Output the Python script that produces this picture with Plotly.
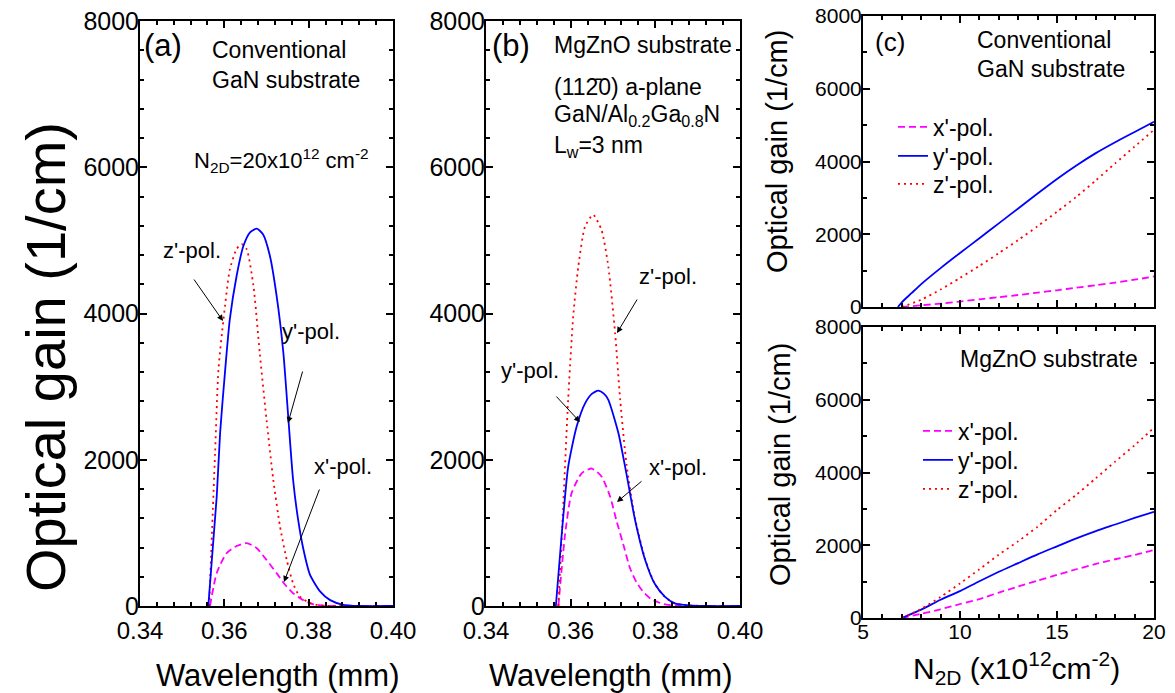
import plotly.graph_objects as go

# ---------------- data ----------------
# Panel (a): conventional GaN substrate, N2D = 20e12 cm^-2
a_y_wl = [0.3562, 0.3582, 0.3590, 0.3602, 0.3613, 0.3629, 0.3645, 0.3661, 0.3677, 0.3692, 0.3708,
          0.3724, 0.3740, 0.3752, 0.3763, 0.3775, 0.3787, 0.3803, 0.3827, 0.3851, 0.3880, 0.3920, 0.4000]
a_y_gain = [0, 1500, 2370, 3230, 3920, 4510, 4920, 5110, 5160, 5080, 4790,
            4240, 3460, 2550, 1730, 1180, 790, 430, 200, 80, 20, 0, 0]
a_z_wl = [0.3564, 0.3578, 0.3586, 0.3598, 0.3613, 0.3629, 0.3641, 0.3653, 0.3669, 0.3684, 0.3700,
          0.3716, 0.3732, 0.3748, 0.3763, 0.3779, 0.3803, 0.3827, 0.3860, 0.4000]
a_z_gain = [0, 2090, 3230, 3920, 4600, 4880, 4950, 4880, 4380, 3460, 2550,
            1730, 1090, 630, 310, 130, 40, 10, 0, 0]
a_x_wl = [0.3566, 0.3582, 0.3605, 0.3629, 0.3653, 0.3677, 0.3700, 0.3724, 0.3744, 0.3763, 0.3787,
          0.3810, 0.3834, 0.3870, 0.4000]
a_x_gain = [0, 450, 720, 820, 860, 790, 630, 450, 290, 175, 80, 27, 5, 0, 0]

# Panel (b): MgZnO substrate
b_y_wl = [0.3565, 0.3579, 0.3594, 0.3614, 0.3634, 0.3650, 0.3665, 0.3679, 0.3689, 0.3713, 0.3732,
          0.3752, 0.3776, 0.3799, 0.3823, 0.3846, 0.3880, 0.3920, 0.4000]
b_y_gain = [0, 990, 1900, 2450, 2770, 2900, 2945, 2900, 2820, 2360, 1800,
            1180, 630, 300, 125, 36, 8, 0, 0]
b_z_wl = [0.3571, 0.3583, 0.3594, 0.3606, 0.3618, 0.3634, 0.3653, 0.3673, 0.3689, 0.3705, 0.3717,
          0.3732, 0.3752, 0.3776, 0.3799, 0.3823, 0.3846, 0.3880, 0.3920, 0.4000]
b_z_gain = [0, 1450, 2820, 3960, 4640, 5190, 5350, 5140, 4640, 3730, 2820,
            1930, 1200, 640, 300, 120, 36, 8, 0, 0]
b_x_wl = [0.3571, 0.3587, 0.3602, 0.3626, 0.3650, 0.3673, 0.3693, 0.3709, 0.3724, 0.3740, 0.3756,
          0.3772, 0.3790, 0.3820, 0.3860, 0.4000]
b_x_gain = [0, 990, 1540, 1815, 1880, 1770, 1500, 1150, 850, 520, 320, 190, 95, 25, 0, 0]

# Panel (c): gain vs carrier density
c_n = [7, 8, 9, 10, 11, 12, 13, 14, 15, 16, 17, 18, 19, 20]
c_top_y_n = [6.8, 7.0, 7.5, 8, 9, 10, 11, 12, 13, 14, 15, 16, 17, 18, 19, 20]
c_top_y = [0, 130, 380, 630, 1070, 1486, 1890, 2300, 2710, 3120, 3520, 3890, 4230, 4530, 4810, 5090]
c_top_z = [0, 200, 480, 800, 1130, 1480, 1840, 2220, 2620, 3030, 3480, 3950, 4410, 4870]
c_top_x = [0, 45, 95, 150, 210, 270, 330, 395, 460, 530, 600, 670, 750, 840]
c_bot_x = [0, 115, 240, 385, 520, 700, 865, 1030, 1185, 1340, 1485, 1615, 1735, 1870]
c_bot_y = [0, 230, 500, 740, 1010, 1270, 1510, 1750, 1970, 2190, 2390, 2570, 2750, 2920]
c_bot_z = [0, 250, 580, 950, 1340, 1740, 2110, 2510, 2970, 3390, 3840, 4300, 4750, 5230]

pol_names = ["x'-pol.", "y'-pol.", "z'-pol."]

# ---------------- styling ----------------
# the page body has an 8 px margin, so the figure starts at (8, 8)
OFF = 8
W, H = 1175 - OFF, 693 - OFF
FONT = "Arial, Liberation Sans, sans-serif"
COL = {"x": "#FF00FF", "y": "#0000FF", "z": "#FF0000"}
DASH = {"x": "7px,4px", "y": "solid", "z": "2px,4px"}
LW = 1.8


def fx(px):
    return (px - OFF) / W


def fy(py):
    return 1 - (py - OFF) / H


fig = go.Figure()


def add(xv, yv, pol, xa, ya, legend=None):
    fig.add_trace(go.Scatter(
        x=xv, y=yv, mode="lines", xaxis=xa, yaxis=ya,
        name=pol_names["xyz".index(pol)],
        line=dict(color=COL[pol], dash=DASH[pol], width=LW, shape="spline", smoothing=0.6),
        showlegend=legend is not None, legend=legend if legend else "legend",
        hoverinfo="skip"))


add(a_x_wl, a_x_gain, "x", "x", "y")
add(a_z_wl, a_z_gain, "z", "x", "y")
add(a_y_wl, a_y_gain, "y", "x", "y")
add(b_x_wl, b_x_gain, "x", "x2", "y2")
add(b_z_wl, b_z_gain, "z", "x2", "y2")
add(b_y_wl, b_y_gain, "y", "x2", "y2")
add(c_n, c_top_x, "x", "x3", "y3", "legend")
add(c_top_y_n, c_top_y, "y", "x3", "y3", "legend2")
add(c_n, c_top_z, "z", "x3", "y3", "legend3")
add(c_n, c_bot_x, "x", "x4", "y4", "legend4")
add(c_n, c_bot_y, "y", "x4", "y4", "legend5")
add(c_n, c_bot_z, "z", "x4", "y4", "legend6")

axis_common = dict(showline=True, linecolor="black", linewidth=2, mirror="ticks",
                   ticks="inside", tickcolor="black", tickwidth=1.5, showgrid=False,
                   zeroline=False, automargin=False, ticklabeloverflow="allow")


def xaxis_wl(domain, anchor):
    return dict(axis_common, domain=domain, anchor=anchor, range=[0.34, 0.40],
                dtick=0.02, tick0=0.34, tickformat=".2f", ticklen=7,
                tickfont=dict(family=FONT, size=24, color="black"), ticklabelstandoff=2,
                minor=dict(dtick=0.004, ticks="inside", ticklen=4, tickcolor="black", tickwidth=1.5))


def yaxis_gain(domain, anchor, size, minor_dt, standoff):
    return dict(axis_common, domain=domain, anchor=anchor, range=[0, 8000],
                dtick=2000, ticklen=7,
                tickfont=dict(family=FONT, size=size, color="black"), ticklabelstandoff=standoff,
                minor=dict(dtick=minor_dt, ticks="inside", ticklen=4, tickcolor="black", tickwidth=1.5))


xa_dom = [fx(140), fx(393)]
xb_dom = [fx(486), fx(740)]
xc_dom = [fx(863), fx(1154)]
yab_dom = [fy(606), fy(21)]
yct_dom = [fy(307), fy(16)]
ycb_dom = [fy(618), fy(327)]

cx_common = dict(axis_common, domain=xc_dom, range=[5, 20], dtick=5, ticklen=7,
                 tickfont=dict(family=FONT, size=21, color="black"),
                 minor=dict(dtick=1, ticks="inside", ticklen=4, tickcolor="black", tickwidth=1.5))


def leg(text_left_px, row_py):
    return dict(x=fx(text_left_px - 40), y=fy(row_py), xanchor="left", yanchor="middle",
                bgcolor="rgba(0,0,0,0)", borderwidth=0,
                font=dict(family=FONT, size=23, color="black"))


fig.update_layout(
    template="none",
    width=W, height=H, margin=dict(l=0, r=0, t=0, b=0, autoexpand=False),
    paper_bgcolor="white", plot_bgcolor="white",
    font=dict(family=FONT, color="black"),
    xaxis=xaxis_wl(xa_dom, "y"),
    yaxis=yaxis_gain(yab_dom, "x", 25, 400, -6),
    xaxis2=xaxis_wl(xb_dom, "y2"),
    yaxis2=yaxis_gain(yab_dom, "x2", 25, 400, -6),
    xaxis3=dict(cx_common, anchor="y3", showticklabels=False),
    yaxis3=yaxis_gain(yct_dom, "x3", 21, 1000, -5),
    xaxis4=dict(cx_common, anchor="y4", ticklabelstandoff=-6),
    yaxis4=yaxis_gain(ycb_dom, "x4", 21, 1000, -5),
    legend=leg(933, 127), legend2=leg(933, 156), legend3=leg(933, 184),
    legend4=leg(958, 431), legend5=leg(958, 460), legend6=leg(958, 489),
)

ann = []


def text(s, px, py, size, xanchor="center", yanchor="middle", angle=0):
    ann.append(dict(text=s, x=fx(px), y=fy(py), xref="paper", yref="paper",
                    xanchor=xanchor, yanchor=yanchor, showarrow=False, textangle=angle,
                    font=dict(family=FONT, size=size, color="black")))


def arrow(hx, hy, tx, ty):
    ann.append(dict(text="", x=fx(hx), y=fy(hy), xref="paper", yref="paper",
                    ax=tx - hx, ay=ty - hy, showarrow=True, arrowhead=2, arrowsize=1.2,
                    arrowwidth=1, arrowcolor="black", standoff=0))


# axis titles
text("Optical gain (1/cm)", 45, 357, 56, angle=-90)
text("Wavelength (mm)", 277, 675, 31)
text("Wavelength (mm)", 610, 675, 31)
text("Optical gain (1/cm)", 777, 152, 29, angle=-90)
text("Optical gain (1/cm)", 780, 465, 29, angle=-90)
text("N<sub>2D</sub> (x10<sup>12</sup>cm<sup>-2</sup>)", 1016, 668, 30)

# panel (a)
text("(a)", 163, 46, 31)
text("Conventional", 210, 50, 23, xanchor="left")
text("GaN substrate", 210, 80, 23, xanchor="left")
text("N<sub>2D</sub>=20x10<sup>12</sup> cm<sup>-2</sup>", 192, 160, 22, xanchor="left")
text("z'-pol.", 192, 250, 22)
text("y'-pol.", 311, 331, 22)
text("x'-pol.", 343, 466, 22)
arrow(223, 321, 193, 278)
arrow(288, 423, 303, 370)
arrow(284, 582, 320, 488)

# panel (b)
text("(b)", 511, 46, 31)
text("MgZnO substrate", 552, 45, 23, xanchor="left")
text("(112\u03040) a-plane", 552, 87, 23, xanchor="left")
text("GaN/Al<sub>0.2</sub>Ga<sub>0.8</sub>N", 552, 116, 23, xanchor="left")
text("L<sub>w</sub>=3 nm", 552, 146, 23, xanchor="left")
text("z'-pol.", 668, 276, 22)
text("y'-pol.", 530, 370, 22)
text("x'-pol.", 678, 468, 22)
arrow(617, 333, 638, 298)
arrow(580, 422, 555, 395)
arrow(617, 502, 643, 480)

# panel (c)
text("(c)", 890, 42, 26)
text("Conventional", 975, 40, 23, xanchor="left")
text("GaN substrate", 975, 69, 23, xanchor="left")
text("MgZnO substrate", 958, 359, 23, xanchor="left")

fig.update_layout(annotations=ann)
fig.write_html("out.html")
